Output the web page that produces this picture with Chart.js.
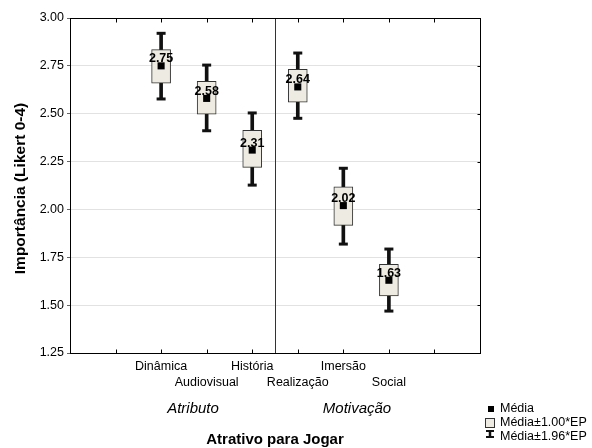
<!DOCTYPE html>
<html>
<head>
<meta charset="utf-8">
<script src="https://cdn.jsdelivr.net/npm/chart.js@4.4.1/dist/chart.umd.min.js"></script>
<style>
  html, body { margin: 0; padding: 0; background: #fff; }
  #wrap { width: 592px; height: 448px; }
</style>
</head>
<body>
<div id="wrap"><canvas id="chart"></canvas></div>
<script>
// valores
const categories = ['Dinâmica', 'Audiovisual', 'História', 'Realização', 'Imersão', 'Social'];
const groups = ['Atributo', 'Motivação'];
const groupSizes = [3, 3];
const means = [2.75, 2.58, 2.31, 2.64, 2.02, 1.63];
const boxLow = [2.66, 2.497, 2.22, 2.56, 1.917, 1.548];
const boxHigh = [2.835, 2.669, 2.413, 2.732, 2.118, 1.713];
const whiskLow = [2.577, 2.411, 2.127, 2.476, 1.819, 1.469];
const whiskHigh = [2.92, 2.754, 2.504, 2.817, 2.215, 1.793];
const yTicks = [1.25, 1.50, 1.75, 2.00, 2.25, 2.50, 2.75, 3.00];

const FONT = "'Liberation Sans', Arial, sans-serif";
const LEAD = 2; // posições vazias antes da primeira categoria
const xMax = categories.length + 2 * LEAD - 1;
const slot = i => i + LEAD;

const boxData = categories.map((c, i) => ({ x: slot(i), y: [boxLow[i], boxHigh[i]] }));
const whiskData = categories.map((c, i) => ({ x: slot(i), y: [whiskLow[i], whiskHigh[i]] }));
const capData = categories.flatMap((c, i) => [{ x: slot(i), y: whiskLow[i] }, { x: slot(i), y: whiskHigh[i] }]);
const meanData = categories.map((c, i) => ({ x: slot(i), y: means[i] }));

const decor = {
    id: 'decor',
    afterDatasetsDraw(chart) {
        // rótulos das médias
        const ctx = chart.ctx;
        const meta = chart.getDatasetMeta(0);
        ctx.save();
        ctx.font = 'bold 12.5px ' + FONT;
        ctx.fillStyle = '#000';
        ctx.textAlign = 'center';
        ctx.textBaseline = 'middle';
        meta.data.forEach((pt, i) => {
            ctx.fillText(means[i].toFixed(2), pt.x, pt.y - 7);
        });
        ctx.restore();
    },
    afterDraw(chart) {
        const { ctx, chartArea: a, scales: { x, y } } = chart;
        ctx.save();
        const L = Math.round(a.left) + 0.5, R = Math.round(a.right) + 0.5;
        const T = Math.round(a.top) + 0.5, B = Math.round(a.bottom) + 0.5;

        // divisória entre os grupos
        const split = Math.round(x.getPixelForValue(slot(groupSizes[0]) - 0.5)) + 0.5;
        ctx.strokeStyle = '#333';
        ctx.lineWidth = 1;
        ctx.beginPath();
        ctx.moveTo(split, T); ctx.lineTo(split, B);
        ctx.stroke();

        // moldura e marcas internas
        ctx.strokeStyle = '#000';
        ctx.strokeRect(L, T, R - L, B - T);
        ctx.beginPath();
        for (let k = 1; k < xMax; k++) {
            const px = Math.round(x.getPixelForValue(k)) + 0.5;
            ctx.moveTo(px, T); ctx.lineTo(px, T + 4);
            ctx.moveTo(px, B); ctx.lineTo(px, B - 4);
        }
        yTicks.forEach(v => {
            const py = Math.round(y.getPixelForValue(v)) + 0.5;
            ctx.moveTo(R, py); ctx.lineTo(R - 3, py);
        });
        ctx.stroke();

        // títulos
        ctx.fillStyle = '#000';
        ctx.textAlign = 'center';
        ctx.textBaseline = 'middle';
        ctx.font = 'italic 15px ' + FONT;
        ctx.fillText(groups[0], x.getPixelForValue(xMax * 0.3), 409);
        ctx.fillText(groups[1], x.getPixelForValue(xMax * 0.7), 409);
        ctx.font = 'bold 15px ' + FONT;
        ctx.fillText('Atrativo para Jogar', (a.left + a.right) / 2, 440);
        ctx.save();
        ctx.translate(21, (a.top + a.bottom) / 2 + 3);
        ctx.rotate(-Math.PI / 2);
        ctx.font = 'bold 15.5px ' + FONT;
        ctx.fillText('Importância (Likert 0-4)', 0, 0);
        ctx.restore();

        // legenda
        ctx.fillStyle = '#000';
        ctx.fillRect(488, 406, 6, 6);
        ctx.fillStyle = '#eeece2';
        ctx.fillRect(485.5, 418.5, 9, 9);
        ctx.strokeStyle = '#333';
        ctx.strokeRect(485.5, 418.5, 9, 9);
        ctx.strokeStyle = '#111';
        ctx.lineWidth = 2.5;
        ctx.beginPath();
        ctx.moveTo(490, 431); ctx.lineTo(490, 437);
        ctx.stroke();
        ctx.lineWidth = 2;
        ctx.beginPath();
        ctx.moveTo(486, 431); ctx.lineTo(494, 431);
        ctx.moveTo(486, 437); ctx.lineTo(494, 437);
        ctx.stroke();
        ctx.fillStyle = '#000';
        ctx.textAlign = 'left';
        ctx.font = '12.5px ' + FONT;
        ctx.fillText('Média', 500, 409);
        ctx.fillText('Média±1.00*EP', 500, 423);
        ctx.fillText('Média±1.96*EP', 500, 437);
        ctx.restore();
    }
};

new Chart(document.getElementById('chart'), {
    type: 'bar',
    data: {
        datasets: [
            {
                type: 'scatter',
                label: 'Média',
                data: meanData,
                pointStyle: 'rect',
                pointRadius: 5,
                backgroundColor: '#000',
                borderColor: '#000',
                borderWidth: 0,
                order: 0
            },
            {
                label: 'Média±1.00*EP',
                data: boxData,
                backgroundColor: '#eeece2',
                borderColor: '#333',
                borderWidth: 1,
                borderSkipped: false,
                barThickness: 19,
                grouped: false,
                order: 1
            },
            {
                type: 'scatter',
                label: 'caps',
                data: capData,
                pointStyle: 'line',
                pointRadius: 4.5,
                borderColor: '#111',
                borderWidth: 3,
                order: 2
            },
            {
                label: 'Média±1.96*EP',
                data: whiskData,
                backgroundColor: '#111',
                borderWidth: 0,
                barThickness: 3,
                grouped: false,
                order: 3
            }
        ]
    },
    options: {
        responsive: true,
        maintainAspectRatio: false,
        animation: false,
        events: [],
        layout: { padding: { left: 0, top: 18, right: 112, bottom: 0 } },
        plugins: {
            legend: { display: false },
            tooltip: { enabled: false }
        },
        scales: {
            x: {
                type: 'linear',
                min: 0,
                max: xMax,
                offset: false,
                afterFit: s => { s.height = 95; },
                afterBuildTicks: s => {
                    s.ticks = [];
                    for (let k = 0; k <= xMax; k++) s.ticks.push({ value: k });
                },
                grid: { display: true, drawOnChartArea: false, drawTicks: false },
                border: { display: false },
                ticks: {
                    autoSkip: false,
                    maxRotation: 0,
                    padding: 5,
                    color: '#000',
                    font: { family: FONT, size: 12.5, lineHeight: 1.3 },
                    callback: v => {
                        const i = v - LEAD;
                        const name = categories[i];
                        if (!name) return '';
                        return i % 2 ? ['', name] : name;
                    }
                }
            },
            y: {
                min: yTicks[0],
                max: yTicks[yTicks.length - 1],
                afterFit: s => { s.width = 70; },
                afterBuildTicks: s => { s.ticks = yTicks.map(v => ({ value: v })); },
                grid: { color: '#e2e2e2', tickColor: '#666', tickLength: 3 },
                border: { display: false },
                ticks: {
                    padding: 3,
                    color: '#000',
                    font: { family: FONT, size: 12.5 },
                    callback: v => Number(v).toFixed(2)
                }
            }
        }
    },
    plugins: [decor]
});
</script>
</body>
</html>
